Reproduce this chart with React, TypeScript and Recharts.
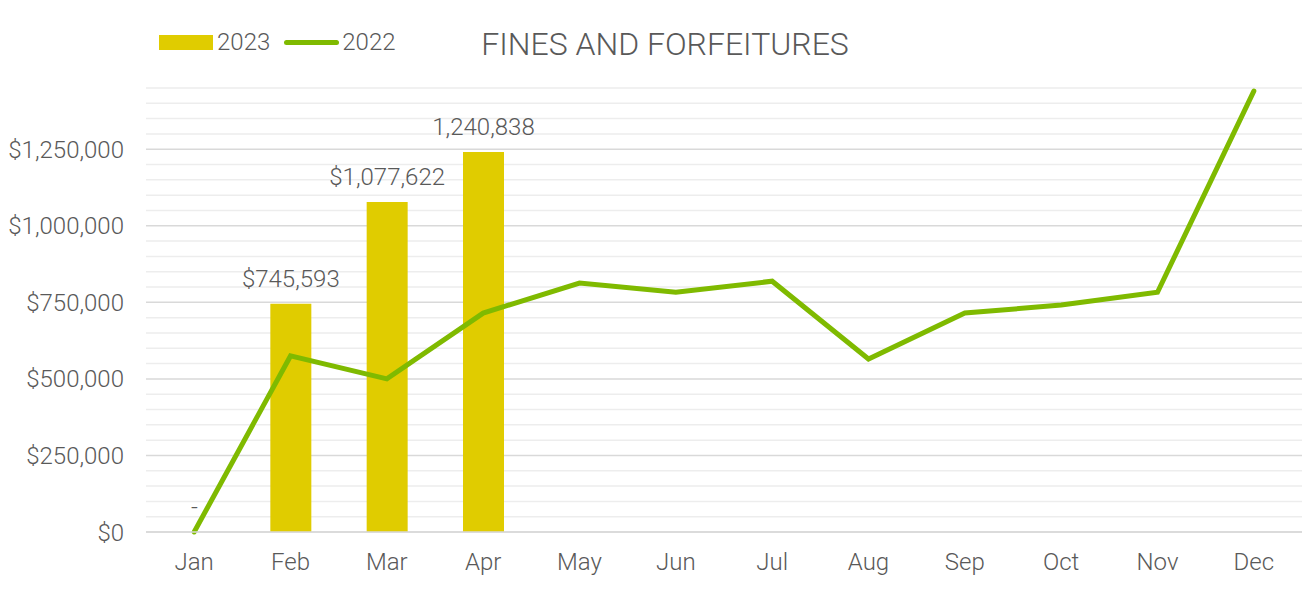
import {
  ComposedChart,
  Bar,
  Line,
  XAxis,
  YAxis,
  CartesianGrid,
  LabelList,
} from "recharts";

const months = ["Jan", "Feb", "Mar", "Apr", "May", "Jun", "Jul", "Aug", "Sep", "Oct", "Nov", "Dec"];
const fines2023 = [0, 745593, 1077622, 1240838, null, null, null, null, null, null, null, null];
const labels2023 = ["-", "$745,593", "$1,077,622", "1,240,838"];
const fines2022 = [0, 575000, 500000, 715000, 813000, 783000, 819000, 565000, 715000, 741000, 783000, 1440000];
const yTicks = [0, 250000, 500000, 750000, 1000000, 1250000];
const minorLines = [50000, 100000, 150000, 200000, 300000, 350000, 400000, 450000, 550000, 600000, 650000, 700000, 800000, 850000, 900000, 950000, 1050000, 1100000, 1150000, 1200000, 1300000, 1350000, 1400000, 1450000];

const data = months.map((m, i) => ({
  month: m,
  y2023: fines2023[i],
  label: labels2023[i],
  y2022: fines2022[i],
}));

const font = "Roboto, sans-serif";
const textColor = "#595959";
const barColor = "#E0CC00";
const lineColor = "#7FBA00";

const fmtMoney = (v: number) => "$" + v.toLocaleString("en-US");

export default function App() {
  return (
    <div style={{ position: "absolute", left: 0, top: 0, width: 1302, height: 604, background: "#fff", fontFamily: font }}>
      <div
        style={{
          position: "absolute",
          left: 0,
          width: 1330,
          top: 25,
          textAlign: "center",
          fontSize: 32,
          fontWeight: 300,
          color: textColor,
          lineHeight: "38px",
        }}
      >
        FINES AND FORFEITURES
      </div>
      <div style={{ position: "absolute", left: 159, top: 28, height: 28, display: "flex", alignItems: "center", fontSize: 24, fontWeight: 300, color: textColor }}>
        <span style={{ display: "inline-block", width: 54, height: 15, background: barColor, marginRight: 4 }} />
        <span>2023</span>
        <span style={{ display: "inline-block", width: 55, height: 5, borderRadius: 3, background: lineColor, marginLeft: 14, marginRight: 3 }} />
        <span>2022</span>
      </div>
      <ComposedChart
        width={1302}
        height={604}
        data={data}
        margin={{ top: 88, right: 0, left: 0, bottom: 32 }}
        style={{ position: "absolute", left: 0, top: 0 }}
      >
        <CartesianGrid
          vertical={false}
          horizontalValues={minorLines}
          stroke="#ededed"
          strokeWidth={1.5}
        />
        <CartesianGrid
          vertical={false}
          horizontalValues={yTicks}
          stroke="#d9d9d9"
          strokeWidth={1.5}
        />
        <XAxis
          dataKey="month"
          height={40}
          tickLine={false}
          axisLine={{ stroke: "#d9d9d9", strokeWidth: 1.5 }}
          tickMargin={15}
          tick={{ fontSize: 24, fill: textColor, fontFamily: font, fontWeight: 300 }}
        />
        <YAxis
          width={146}
          domain={[0, 1450000]}
          ticks={yTicks}
          interval={0}
          tickFormatter={fmtMoney}
          tickLine={false}
          axisLine={false}
          tickMargin={16}
          tick={{ fontSize: 24, fill: textColor, fontFamily: font, fontWeight: 300 }}
        />
        <Bar
          dataKey="y2023"
          fill={barColor}
          barSize={41}
          minPointSize={(v: number) => (v === 0 ? 0.01 : 0)}
          isAnimationActive={false}
        >
          <LabelList
            dataKey="label"
            position="top"
            offset={17}
            style={{ fontSize: 24, fill: textColor, fontFamily: font, fontWeight: 300 }}
          />
        </Bar>
        <Line
          dataKey="y2022"
          type="linear"
          stroke={lineColor}
          strokeWidth={5}
          strokeLinecap="round"
          dot={false}
          activeDot={false}
          isAnimationActive={false}
        />
      </ComposedChart>
    </div>
  );
}
